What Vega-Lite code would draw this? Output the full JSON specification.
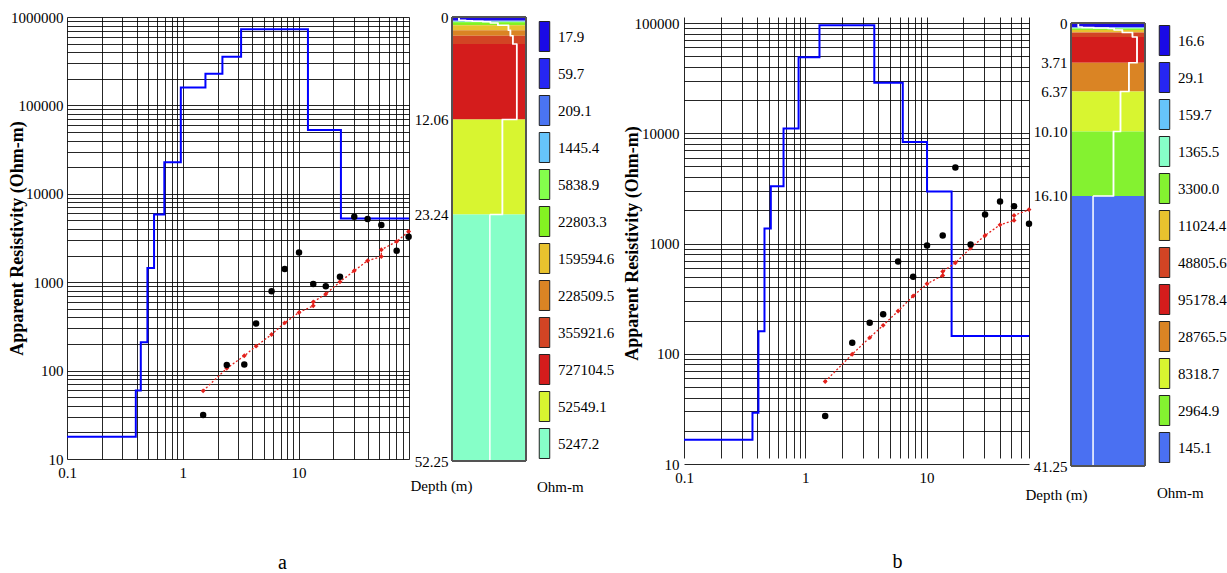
{
  "$schema": "https://vega.github.io/schema/vega-lite/v6.json",
  "background": "white",
  "padding": {"left": 8, "top": 10, "right": 0, "bottom": 0},
  "spacing": 0,
  "bounds": "flush",
  "config": {
    "view": {"stroke": null},
    "font": "Liberation Serif",
    "axis": {"labelFont": "Liberation Serif", "titleFont": "Liberation Serif", "labelColor": "#000", "titleColor": "#000"},
    "legend": {"labelFont": "Liberation Serif", "titleFont": "Liberation Serif", "labelColor": "#000", "titleColor": "#000"}
  },
  "resolve": {"scale": {"color": "independent"}, "legend": {"color": "independent"}},
  "datasets": {
    "curveA": [
      {"series": "model", "spacing": 0.1, "rho": 17.9},
      {"series": "model", "spacing": 0.393, "rho": 59.7},
      {"series": "model", "spacing": 0.434, "rho": 209.1},
      {"series": "model", "spacing": 0.495, "rho": 1445.4},
      {"series": "model", "spacing": 0.565, "rho": 5838.9},
      {"series": "model", "spacing": 0.693, "rho": 22803.3},
      {"series": "model", "spacing": 0.962, "rho": 159594.6},
      {"series": "model", "spacing": 1.57, "rho": 228509.5},
      {"series": "model", "spacing": 2.2, "rho": 355921.6},
      {"series": "model", "spacing": 3.19, "rho": 727104.5},
      {"series": "model", "spacing": 12.06, "rho": 52549.1},
      {"series": "model", "spacing": 23.24, "rho": 5247.2},
      {"series": "model", "spacing": 90, "rho": 5247.2},
      {"series": "observed", "spacing": 1.5, "rho": 31.4},
      {"series": "observed", "spacing": 2.4, "rho": 116},
      {"series": "observed", "spacing": 3.4, "rho": 117},
      {"series": "observed", "spacing": 4.3, "rho": 341},
      {"series": "observed", "spacing": 5.85, "rho": 791},
      {"series": "observed", "spacing": 7.6, "rho": 1410},
      {"series": "observed", "spacing": 10.1, "rho": 2170},
      {"series": "observed", "spacing": 13.4, "rho": 953},
      {"series": "observed", "spacing": 17.2, "rho": 898},
      {"series": "observed", "spacing": 22.8, "rho": 1153},
      {"series": "observed", "spacing": 30.3, "rho": 5500},
      {"series": "observed", "spacing": 39.5, "rho": 5180},
      {"series": "observed", "spacing": 51.9, "rho": 4430},
      {"series": "observed", "spacing": 70.4, "rho": 2270},
      {"series": "observed", "spacing": 89.3, "rho": 3270},
      {"series": "calculated", "spacing": 1.5, "rho": 59},
      {"series": "calculated", "spacing": 2.4, "rho": 106},
      {"series": "calculated", "spacing": 3.4, "rho": 147},
      {"series": "calculated", "spacing": 4.3, "rho": 189},
      {"series": "calculated", "spacing": 5.85, "rho": 256},
      {"series": "calculated", "spacing": 7.6, "rho": 347},
      {"series": "calculated", "spacing": 10.1, "rho": 455},
      {"series": "calculated", "spacing": 13.4, "rho": 540},
      {"series": "calculated", "spacing": 13.4, "rho": 598},
      {"series": "calculated", "spacing": 17.2, "rho": 735},
      {"series": "calculated", "spacing": 22.8, "rho": 1010},
      {"series": "calculated", "spacing": 30.3, "rho": 1350},
      {"series": "calculated", "spacing": 39.5, "rho": 1750},
      {"series": "calculated", "spacing": 51.9, "rho": 1950},
      {"series": "calculated", "spacing": 51.9, "rho": 2330},
      {"series": "calculated", "spacing": 70.4, "rho": 2890},
      {"series": "calculated", "spacing": 89.3, "rho": 3750}
    ],
    "curveB": [
      {"series": "model", "spacing": 0.1, "rho": 16.6},
      {"series": "model", "spacing": 0.367, "rho": 29.1},
      {"series": "model", "spacing": 0.411, "rho": 159.7},
      {"series": "model", "spacing": 0.461, "rho": 1365.5},
      {"series": "model", "spacing": 0.52, "rho": 3300.0},
      {"series": "model", "spacing": 0.662, "rho": 11024.4},
      {"series": "model", "spacing": 0.881, "rho": 48805.6},
      {"series": "model", "spacing": 1.31, "rho": 95178.4},
      {"series": "model", "spacing": 3.71, "rho": 28765.5},
      {"series": "model", "spacing": 6.37, "rho": 8318.7},
      {"series": "model", "spacing": 10.1, "rho": 2964.9},
      {"series": "model", "spacing": 16.1, "rho": 145.1},
      {"series": "model", "spacing": 70, "rho": 145.1},
      {"series": "observed", "spacing": 1.46, "rho": 27.2},
      {"series": "observed", "spacing": 2.44, "rho": 126},
      {"series": "observed", "spacing": 3.4, "rho": 191},
      {"series": "observed", "spacing": 4.39, "rho": 228},
      {"series": "observed", "spacing": 5.83, "rho": 687},
      {"series": "observed", "spacing": 7.76, "rho": 500},
      {"series": "observed", "spacing": 10.1, "rho": 960},
      {"series": "observed", "spacing": 13.6, "rho": 1183},
      {"series": "observed", "spacing": 17.3, "rho": 4890},
      {"series": "observed", "spacing": 23.1, "rho": 979},
      {"series": "observed", "spacing": 30.4, "rho": 1832},
      {"series": "observed", "spacing": 40.4, "rho": 2400},
      {"series": "observed", "spacing": 52.7, "rho": 2180},
      {"series": "observed", "spacing": 70, "rho": 1508},
      {"series": "calculated", "spacing": 1.46, "rho": 56},
      {"series": "calculated", "spacing": 2.44, "rho": 99},
      {"series": "calculated", "spacing": 3.4, "rho": 140},
      {"series": "calculated", "spacing": 4.39, "rho": 181},
      {"series": "calculated", "spacing": 5.83, "rho": 244},
      {"series": "calculated", "spacing": 7.76, "rho": 334},
      {"series": "calculated", "spacing": 10.1, "rho": 431},
      {"series": "calculated", "spacing": 13.6, "rho": 513},
      {"series": "calculated", "spacing": 13.6, "rho": 557},
      {"series": "calculated", "spacing": 17.3, "rho": 668},
      {"series": "calculated", "spacing": 23.1, "rho": 908},
      {"series": "calculated", "spacing": 30.4, "rho": 1183},
      {"series": "calculated", "spacing": 40.4, "rho": 1476},
      {"series": "calculated", "spacing": 52.7, "rho": 1620},
      {"series": "calculated", "spacing": 52.7, "rho": 1795},
      {"series": "calculated", "spacing": 70, "rho": 2030}
    ],
    "layersA": [
      {"top": 0, "bottom": 0.393, "rho": 17.9},
      {"top": 0.393, "bottom": 0.434, "rho": 59.7},
      {"top": 0.434, "bottom": 0.495, "rho": 209.1},
      {"top": 0.495, "bottom": 0.565, "rho": 1445.4},
      {"top": 0.565, "bottom": 0.693, "rho": 5838.9},
      {"top": 0.693, "bottom": 0.962, "rho": 22803.3},
      {"top": 0.962, "bottom": 1.57, "rho": 159594.6},
      {"top": 1.57, "bottom": 2.2, "rho": 228509.5},
      {"top": 2.2, "bottom": 3.19, "rho": 355921.6},
      {"top": 3.19, "bottom": 12.06, "rho": 727104.5},
      {"top": 12.06, "bottom": 23.24, "rho": 52549.1},
      {"top": 23.24, "bottom": 52.25, "rho": 5247.2}
    ],
    "layersB": [
      {"top": 0, "bottom": 0.367, "rho": 16.6},
      {"top": 0.367, "bottom": 0.411, "rho": 29.1},
      {"top": 0.411, "bottom": 0.461, "rho": 159.7},
      {"top": 0.461, "bottom": 0.52, "rho": 1365.5},
      {"top": 0.52, "bottom": 0.662, "rho": 3300.0},
      {"top": 0.662, "bottom": 0.881, "rho": 11024.4},
      {"top": 0.881, "bottom": 1.31, "rho": 48805.6},
      {"top": 1.31, "bottom": 3.71, "rho": 95178.4},
      {"top": 3.71, "bottom": 6.37, "rho": 28765.5},
      {"top": 6.37, "bottom": 10.1, "rho": 8318.7},
      {"top": 10.1, "bottom": 16.1, "rho": 2964.9},
      {"top": 16.1, "bottom": 41.25, "rho": 145.1}
    ]
  },
  "hconcat": [
    {
      "width": 342,
      "height": 442,
      "data": {"name": "curveA"},
      "encoding": {
        "x": {
          "field": "spacing", "type": "quantitative",
          "scale": {"type": "log", "domain": [0.1, 90], "nice": false},
          "axis": {
            "values": [0.1, 0.2, 0.3, 0.4, 0.5, 0.6, 0.7, 0.8, 0.9, 1, 2, 3, 4, 5, 6, 7, 8, 9, 10, 20, 30, 40, 50, 60, 70, 80, 90],
            "grid": true, "gridColor": "#000", "gridOpacity": 0.85, "gridWidth": 1,
            "ticks": false, "domain": false, "labelOverlap": false, "labelFlush": false,
            "format": "~g",
            "labelExpr": "abs(log(datum.value) / LN10 - round(log(datum.value) / LN10)) < 0.001 ? datum.label : ''",
            "labelFont": "Liberation Serif", "labelFontSize": 15, "labelPadding": 6,
            "title": "a", "titleFont": "Liberation Serif", "titleFontSize": 20, "titleFontWeight": "normal",
            "titleX": 215, "titleY": 103, "titleAlign": "center", "titleBaseline": "middle"
          }
        },
        "y": {
          "field": "rho", "type": "quantitative",
          "scale": {"type": "log", "domain": [10, 1000000], "nice": false},
          "axis": {
            "values": [10, 20, 30, 40, 50, 60, 70, 80, 90, 100, 200, 300, 400, 500, 600, 700, 800, 900, 1000, 2000, 3000, 4000, 5000, 6000, 7000, 8000, 9000, 10000, 20000, 30000, 40000, 50000, 60000, 70000, 80000, 90000, 100000, 200000, 300000, 400000, 500000, 600000, 700000, 800000, 900000, 1000000],
            "grid": true, "gridColor": "#000", "gridOpacity": 0.85, "gridWidth": 1,
            "ticks": false, "domain": false, "labelOverlap": false, "labelFlush": false,
            "format": "d",
            "labelExpr": "abs(log(datum.value) / LN10 - round(log(datum.value) / LN10)) < 0.001 ? datum.label : ''",
            "labelFont": "Liberation Serif", "labelFontSize": 15, "labelPadding": 4,
            "title": "Apparent Resistivity (Ohm-m)", "titleFont": "Liberation Serif", "titleFontSize": 18, "titleFontWeight": "bold",
            "titleX": -50, "titleY": 221, "titleAngle": 270, "titleAlign": "center", "titleBaseline": "middle"
          }
        }
      },
      "layer": [
        {"transform": [{"filter": "datum.series == 'model'"}], "mark": {"type": "line", "interpolate": "step-after", "color": "#0000ff", "strokeWidth": 2}, "encoding": {}},
        {"transform": [{"filter": "datum.series == 'calculated'"}], "mark": {"type": "line", "color": "#e3201b", "strokeWidth": 1.3, "strokeDash": [2, 2]}, "encoding": {}},
        {"transform": [{"filter": "datum.series == 'calculated'"}], "mark": {"type": "point", "shape": "diamond", "filled": true, "color": "#e3201b", "size": 24, "opacity": 1}, "encoding": {}},
        {"transform": [{"filter": "datum.series == 'observed'"}], "mark": {"type": "point", "shape": "circle", "filled": true, "color": "#000", "size": 42, "opacity": 1}, "encoding": {}}
      ]
    },
    {
      "width": 275,
      "height": 444,
      "data": {"name": "layersA"},
      "layer": [
        {
          "mark": {"type": "rect"},
          "encoding": {
            "x": {
              "datum": 5, "type": "quantitative",
              "scale": {"type": "log", "domain": [5, 4000000], "range": [43, 117], "nice": false},
              "axis": {"title": "Depth (m)", "labels": false, "ticks": false, "domain": false, "grid": false, "titleFont": "Liberation Serif", "titleFontSize": 15, "titleFontWeight": "normal", "titleX": 32, "titleY": 24, "titleAlign": "center", "titleBaseline": "middle"}
            },
            "x2": {"datum": 4000000},
            "y": {
              "field": "top", "type": "quantitative",
              "scale": {"domain": [0, 52.25], "reverse": true, "nice": false, "zero": false},
              "axis": {"values": [0, 12.06, 23.24, 52.25], "title": null, "grid": false, "ticks": false, "domain": false, "offset": -43, "labelPadding": 4, "labelFont": "Liberation Serif", "labelFontSize": 15, "labelOverlap": false, "labelExpr": "datum.value == 0 ? '0' : format(datum.value, '.2f')"}
            },
            "y2": {"field": "bottom"},
            "color": {
              "field": "rho", "type": "nominal",
              "scale": {
                "domain": [17.9, 59.7, 209.1, 1445.4, 5838.9, 22803.3, 159594.6, 228509.5, 355921.6, 727104.5, 52549.1, 5247.2],
                "range": ["#1a0ae6", "#2626f2", "#4a74f2", "#66c4fa", "#84ff4c", "#84f222", "#e8c22e", "#da8424", "#d24424", "#d41c1c", "#d8f530", "#86ffc8"]
              },
              "legend": {
                "orient": "none", "legendX": 128, "legendY": 12, "padding": 0,
                "title": "Ohm-m", "titleOrient": "bottom", "titleFont": "Liberation Serif", "titleFontSize": 15, "titleFontWeight": "normal", "titleAnchor": "start", "titlePadding": 20,
                "symbolType": "M-1,-2.86h2v5.72h-2z", "symbolSize": 110, "symbolStrokeColor": "#222", "symbolStrokeWidth": 1, "symbolOpacity": 1,
                "labelFont": "Liberation Serif", "labelFontSize": 15, "labelOffset": 6, "rowPadding": 2,
                "labelExpr": "format(datum.value, '.1f')"
              }
            }
          }
        },
        {
          "mark": {"type": "line", "interpolate": "step-before", "color": "#ffffff", "strokeWidth": 1.5},
          "encoding": {
            "x": {"field": "rho", "type": "quantitative"},
            "y": {"field": "top", "type": "quantitative"},
            "order": {"field": "top", "type": "quantitative"}
          }
        },
        {
          "mark": {"type": "rule", "color": "#ffffff", "strokeWidth": 1.5},
          "encoding": {
            "x": {"field": "rho", "type": "quantitative"},
            "y": {"field": "top", "type": "quantitative"},
            "y2": {"field": "bottom"}
          }
        },
        {
          "mark": {"type": "rect", "fill": "transparent", "stroke": "#555", "strokeWidth": 1},
          "encoding": {
            "x": {"datum": 5, "type": "quantitative"},
            "x2": {"datum": 4000000},
            "y": {"datum": 0, "type": "quantitative"},
            "y2": {"datum": 52.25}
          }
        }
      ]
    },
    {
      "width": 345,
      "height": 447,
      "data": {"name": "curveB"},
      "encoding": {
        "x": {
          "field": "spacing", "type": "quantitative",
          "scale": {"type": "log", "domain": [0.1, 70], "nice": false},
          "axis": {
            "values": [0.1, 0.2, 0.3, 0.4, 0.5, 0.6, 0.7, 0.8, 0.9, 1, 2, 3, 4, 5, 6, 7, 8, 9, 10, 20, 30, 40, 50, 60, 70],
            "grid": true, "gridColor": "#000", "gridOpacity": 0.85, "gridWidth": 1,
            "ticks": false, "domain": false, "labelOverlap": false, "labelFlush": false,
            "format": "~g",
            "labelExpr": "abs(log(datum.value) / LN10 - round(log(datum.value) / LN10)) < 0.001 ? datum.label : ''",
            "labelFont": "Liberation Serif", "labelFontSize": 15, "labelPadding": 6,
            "title": "b", "titleFont": "Liberation Serif", "titleFontSize": 20, "titleFontWeight": "normal",
            "titleX": 213, "titleY": 97, "titleAlign": "center", "titleBaseline": "middle"
          }
        },
        "y": {
          "field": "rho", "type": "quantitative",
          "scale": {"type": "log", "domain": [10, 100000], "nice": false, "range": [447, 6]},
          "axis": {
            "values": [10, 20, 30, 40, 50, 60, 70, 80, 90, 100, 200, 300, 400, 500, 600, 700, 800, 900, 1000, 2000, 3000, 4000, 5000, 6000, 7000, 8000, 9000, 10000, 20000, 30000, 40000, 50000, 60000, 70000, 80000, 90000, 100000],
            "grid": true, "gridColor": "#000", "gridOpacity": 0.85, "gridWidth": 1,
            "ticks": false, "domain": false, "labelOverlap": false, "labelFlush": false,
            "format": "d",
            "labelExpr": "abs(log(datum.value) / LN10 - round(log(datum.value) / LN10)) < 0.001 ? datum.label : ''",
            "labelFont": "Liberation Serif", "labelFontSize": 15, "labelPadding": 5,
            "title": "Apparent Resistivity (Ohm-m)", "titleFont": "Liberation Serif", "titleFontSize": 18, "titleFontWeight": "bold",
            "titleX": -52, "titleY": 226, "titleAngle": 270, "titleAlign": "center", "titleBaseline": "middle"
          }
        }
      },
      "layer": [
        {"transform": [{"filter": "datum.series == 'model'"}], "mark": {"type": "line", "interpolate": "step-after", "color": "#0000ff", "strokeWidth": 2}, "encoding": {}},
        {"transform": [{"filter": "datum.series == 'calculated'"}], "mark": {"type": "line", "color": "#e3201b", "strokeWidth": 1.3, "strokeDash": [2, 2]}, "encoding": {}},
        {"transform": [{"filter": "datum.series == 'calculated'"}], "mark": {"type": "point", "shape": "diamond", "filled": true, "color": "#e3201b", "size": 24, "opacity": 1}, "encoding": {}},
        {"transform": [{"filter": "datum.series == 'observed'"}], "mark": {"type": "point", "shape": "circle", "filled": true, "color": "#000", "size": 42, "opacity": 1}, "encoding": {}}
      ]
    },
    {
      "width": 198,
      "height": 449,
      "data": {"name": "layersB"},
      "layer": [
        {
          "mark": {"type": "rect"},
          "encoding": {
            "x": {
              "datum": 5.6, "type": "quantitative",
              "scale": {"type": "log", "domain": [5.6, 310000], "range": [42, 116], "nice": false},
              "axis": {"title": "Depth (m)", "labels": false, "ticks": false, "domain": false, "grid": false, "titleFont": "Liberation Serif", "titleFontSize": 15, "titleFontWeight": "normal", "titleX": 27, "titleY": 28, "titleAlign": "center", "titleBaseline": "middle"}
            },
            "x2": {"datum": 310000},
            "y": {
              "field": "top", "type": "quantitative",
              "scale": {"domain": [0, 41.25], "range": [6, 449], "nice": false, "zero": false},
              "axis": {"values": [0, 3.71, 6.37, 10.1, 16.1, 41.25], "title": null, "grid": false, "ticks": false, "domain": false, "offset": -42, "labelPadding": 4, "labelFont": "Liberation Serif", "labelFontSize": 15, "labelOverlap": false, "labelExpr": "datum.value == 0 ? '0' : format(datum.value, '.2f')"}
            },
            "y2": {"field": "bottom"},
            "color": {
              "field": "rho", "type": "nominal",
              "scale": {
                "domain": [16.6, 29.1, 159.7, 1365.5, 3300.0, 11024.4, 48805.6, 95178.4, 28765.5, 8318.7, 2964.9, 145.1],
                "range": ["#1a0ae6", "#2626f2", "#66c4fa", "#86ffc8", "#84f230", "#e8c22e", "#d24424", "#d41c1c", "#da8424", "#d8f530", "#84f230", "#4a70f2"]
              },
              "legend": {
                "orient": "none", "legendX": 128, "legendY": 16, "padding": 0,
                "title": "Ohm-m", "titleOrient": "bottom", "titleFont": "Liberation Serif", "titleFontSize": 15, "titleFontWeight": "normal", "titleAnchor": "start", "titlePadding": 22,
                "symbolType": "M-1,-2.86h2v5.72h-2z", "symbolSize": 110, "symbolStrokeColor": "#222", "symbolStrokeWidth": 1, "symbolOpacity": 1,
                "labelFont": "Liberation Serif", "labelFontSize": 15, "labelOffset": 6, "rowPadding": 2,
                "labelExpr": "format(datum.value, '.1f')"
              }
            }
          }
        },
        {
          "mark": {"type": "line", "interpolate": "step-before", "color": "#ffffff", "strokeWidth": 1.5},
          "encoding": {
            "x": {"field": "rho", "type": "quantitative"},
            "y": {"field": "top", "type": "quantitative"},
            "order": {"field": "top", "type": "quantitative"}
          }
        },
        {
          "mark": {"type": "rule", "color": "#ffffff", "strokeWidth": 1.5},
          "encoding": {
            "x": {"field": "rho", "type": "quantitative"},
            "y": {"field": "top", "type": "quantitative"},
            "y2": {"field": "bottom"}
          }
        },
        {
          "mark": {"type": "rect", "fill": "transparent", "stroke": "#555", "strokeWidth": 1},
          "encoding": {
            "x": {"datum": 5.6, "type": "quantitative"},
            "x2": {"datum": 310000},
            "y": {"datum": 0, "type": "quantitative"},
            "y2": {"datum": 41.25}
          }
        }
      ]
    }
  ]
}
